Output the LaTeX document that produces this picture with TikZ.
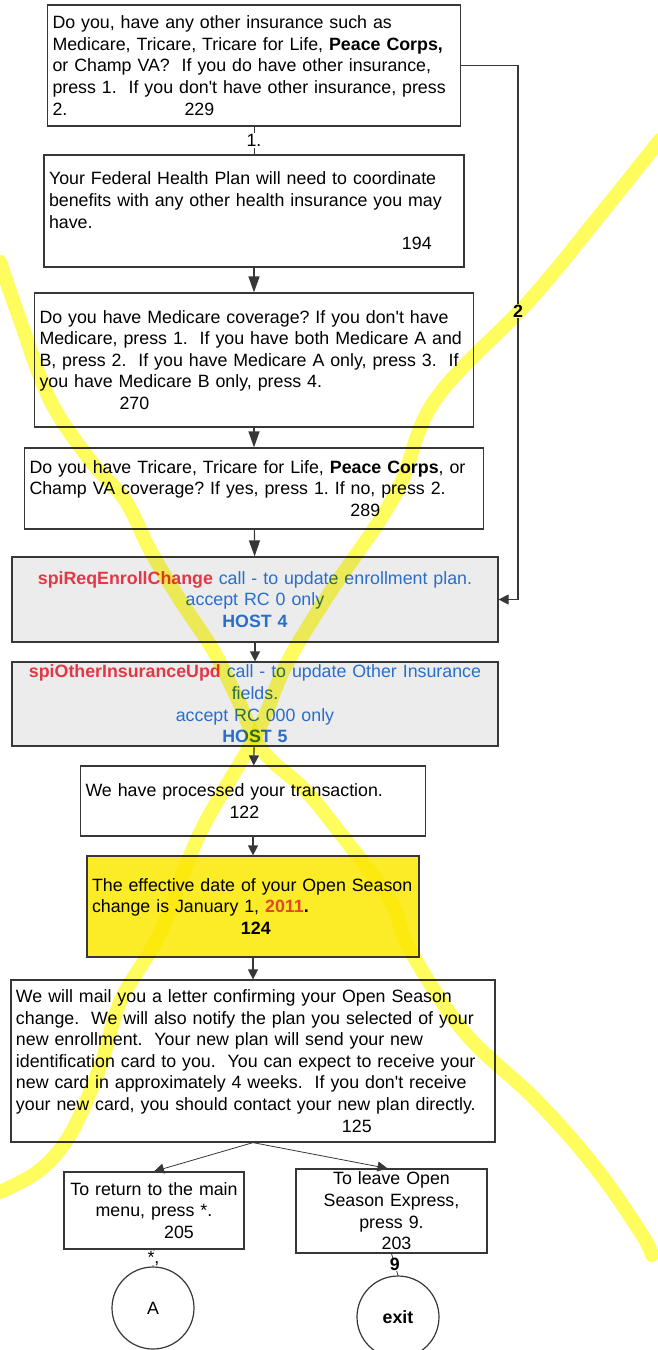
\documentclass[tikz,border=0pt]{standalone}
\usepackage{fontspec}
\setmainfont{Liberation Sans}
\usetikzlibrary{arrows.meta}
\definecolor{lineclr}{RGB}{55,55,55}
\definecolor{qred}{RGB}{228,55,70}
\definecolor{qblue}{RGB}{40,110,205}
\definecolor{yearred}{RGB}{228,70,40}
\definecolor{hostfill}{RGB}{236,236,236}
\definecolor{notefill}{RGB}{252,236,40}
\definecolor{marker}{RGB}{255,252,40}
\newcommand{\ivrfont}{\fontsize{17.8}{21.6}\selectfont}
\newcommand{\ap}{\textquotesingle}
\frenchspacing
\tikzstyle{prompt}=[draw=lineclr, line width=1.2pt, fill=white, inner xsep=5pt, inner ysep=0pt, align=left, font=\ivrfont]
\tikzstyle{host call}=[prompt, fill=hostfill, align=center, text=qblue]
\tikzstyle{exit point}=[draw=lineclr, line width=1.2pt, circle, minimum size=82pt, inner sep=0pt, font=\ivrfont]
\tikzstyle{plain}=[draw=lineclr, line width=1.2pt]
\tikzstyle{flow}=[plain, -{Triangle[length=16pt,width=11pt]}]
\tikzstyle{short flow}=[plain, -{Triangle[length=10pt,width=10pt]}]
\tikzstyle{key}=[fill=white, inner sep=1pt, font=\ivrfont]
\tikzstyle{marker}=[line width=14pt, color=marker, line cap=round, line join=round, opacity=0.75]

\begin{document}
\begin{tikzpicture}[x=1pt, y=-1pt]
  \useasboundingbox (0,0) rectangle (657,1350);
  \node[prompt, text width=403pt, minimum height=121pt] (other) at (254,65.5)
    {Do you, have any other insurance such as\\
     Medicare, Tricare, Tricare for Life, \textbf{Peace Corps,}\\
     or Champ VA?\ \ If you do have other insurance,\\
     press 1.\ \ If you don\ap t have other insurance, press\\
     \makebox[132pt][l]{2.}229};
  \node[prompt, text width=410pt, minimum height=112pt] (coord) at (254,211)
    {Your Federal Health Plan will need to coordinate\\
     benefits with any other health insurance you may\\
     have.\\
     \hspace*{353pt}194};
  \node[prompt, text width=429pt, minimum height=134pt] (medicare) at (254,360)
    {Do you have Medicare coverage? If you don\ap t have\\
     Medicare, press 1.\ \ If you have both Medicare A and\\
     B, press 2.\ \ If you have Medicare A only, press 3.\ \ If\\
     you have Medicare B only, press 4.\\
     \hspace*{80pt}270};
  \node[prompt, text width=449pt, minimum height=81pt] (tricare) at (254,488.5)
    {Do you have Tricare, Tricare for Life, \textbf{Peace Corps}, or\\
     Champ VA coverage? If yes, press 1. If no, press 2.\\
     \hspace*{321pt}289};
  \node[host call, text width=476pt, minimum height=85pt] (enroll) at (255,599.5)
    {\textcolor{qred}{\bfseries spiReqEnrollChange} call - to update enrollment plan.\\
     accept RC 0 only\\
     \textbf{HOST 4}};
  \node[host call, text width=476pt, minimum height=84pt] (insupd) at (255,704)
    {\textcolor{qred}{\bfseries spiOtherInsuranceUpd} call - to update Other Insurance\\
     fields.\\
     accept RC 000 only\\
     \textbf{HOST 5}};
  \node[prompt, text width=335pt, minimum height=70pt] (done) at (253,801)
    {We have processed your transaction.\\
     \hspace*{144pt}122};
  \node[prompt, fill=notefill, text width=322pt, minimum height=101pt] (effdate) at (253,906.5)
    {The effective date of your Open Season\\
     change is January 1, \textbf{\textcolor{yearred}{2011}.}\\
     \hspace*{149pt}\textbf{124}};
  \node[prompt, text width=474pt, minimum height=162pt] (letter) at (253,1061)
    {We will mail you a letter confirming your Open Season\\
     change.\ \ We will also notify the plan you selected of your\\
     new enrollment.\ \ Your new plan will send your new\\
     identification card to you.\ \ You can expect to receive your\\
     new card in approximately 4 weeks.\ \ If you don\ap t receive\\
     your new card, you should contact your new plan directly.\\
     \hspace*{326pt}125};
  \node[prompt, align=center, text width=170pt, minimum height=77pt] (mainmenu) at (154,1210.5)
    {To return to the main\\
     menu, press *.\\
     \hspace*{50pt}205};
  \node[prompt, align=center, text width=181pt, minimum height=84pt] (leave) at (391.5,1211)
    {To leave Open\\
     Season Express,\\
     press 9.\\
     \hspace*{10pt}203};
  \node[exit point] (menuA) at (153,1308) {A};
  \node[exit point, font=\ivrfont\bfseries] (exit) at (398,1317) {exit};

  \draw[plain, line width=0.8pt] (other.south) -- node[key] {1.} (coord.north);
  \draw[flow] (coord) -- (medicare);
  \draw[flow] (medicare) -- (tricare);
  \draw[flow] (tricare) -- (enroll);
  \draw[short flow] (enroll) -- (insupd);
  \draw[short flow] (insupd) -- (done);
  \draw[short flow] (done) -- (effdate);
  \draw[short flow] (effdate) -- (letter);
  \coordinate (bypass) at (518,0);
  \draw[short flow] (other.east) -- (other.east -| bypass)
    -- node[key, pos=0.46, font=\ivrfont\bfseries] {2} (bypass |- enroll.east)
    -- (enroll.east);
  \draw[short flow, line width=0.8pt] (letter.south) -- (mainmenu.north);
  \draw[short flow, line width=0.8pt] (letter.south) -- ([xshift=-4pt]leave.north);
  \draw[plain, line width=0.8pt] (mainmenu.south) -- node[key, inner sep=0pt] {*,} (menuA.north);
  \draw[plain, line width=0.8pt] (leave.south) -- node[key, inner sep=0pt, font=\ivrfont\bfseries] {9} (exit.north);

  % highlighter strokes across the page
  \begin{scope}[blend mode=multiply]
    \draw[marker] plot[smooth, tension=0.6] coordinates {(0,262) (20,320) (50,400) (90,460)
      (125,500) (150,550) (180,600) (213,650) (238,700) (262,750) (305,790) (340,833)
      (390,900) (410,950) (465,1033) (536,1100) (595,1167) (641,1233) (652,1255)};
    \draw[marker] plot[smooth, tension=0.6] coordinates {(660,140) (600,215) (530,300)
      (435,400) (395,495) (325,600) (285,667) (257,733) (200,833) (160,933) (121,1000)
      (100,1067) (71,1133) (40,1170) (0,1192)};
  \end{scope}
\end{tikzpicture}
\end{document}
